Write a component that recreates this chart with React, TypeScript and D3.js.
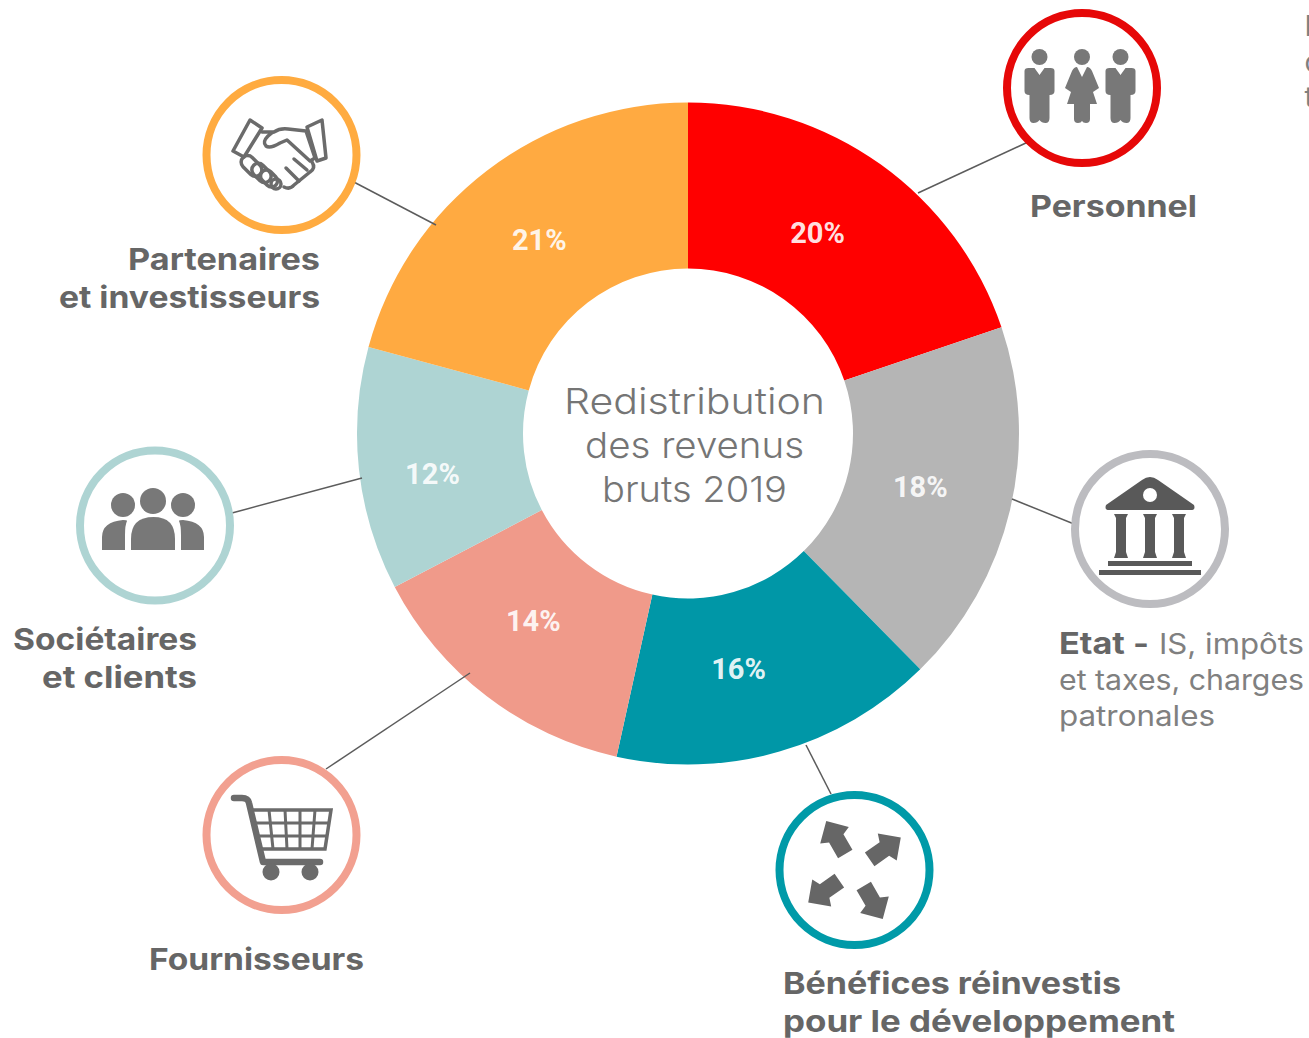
import React from 'react';
import * as d3 from 'd3';

const categories = ['Personnel', 'Etat', 'Bénéfices réinvestis', 'Fournisseurs', 'Sociétaires et clients', 'Partenaires et investisseurs'];
const values = [20, 18, 16, 14, 12, 21];
const valueLabels = ['20%', '18%', '16%', '14%', '12%', '21%'];
const sliceColors = ['#ff0000', '#b5b5b5', '#0097a7', '#f09a8a', '#aed4d3', '#ffaa41'];
const ringColors = ['#e60808', '#bcbcc0', '#009aa8', '#f2a090', '#aed4d3', '#ffab40'];
const centerLines = ['Redistribution', 'des revenus', 'bruts 2019'];
const clippedLetters = ['I', 'd', 't'];

const W = 1309, H = 1038;
const cx = 688, cy = 433.5;
const sans = "Inter, 'Open Sans', sans-serif";
const GREY = '#666666';
// nudges of the percentage labels away from the arc centroid, as placed in the reference
const labelNudge = [[-15, 1], [-9, -4], [-18, -3], [-4, -10], [-9, 13], [2, 3]];
const centerWidths = [261, 219, 185];

const LabelLine = ({ x, y, t, w, anchor = 'start', bold = true, fill = GREY, size = 30 }: any) => (
  <text x={x} y={y} textAnchor={anchor} fontFamily={sans} fontWeight={bold ? 700 : 400} fontSize={size} fill={fill}
    textLength={w} lengthAdjust="spacingAndGlyphs">{t}</text>
);

const Ring = ({ x, y, color }: any) => <circle cx={x} cy={y} r={75} fill="#fff" stroke={color} strokeWidth={8} />;

const People = () => {
  const male = (dx: number) => (
    <g transform={`translate(${dx},0)`} fill="#787878">
      <circle cx={0} cy={-31} r={8} />
      <path d="M-15,-17 Q-15,-20 -11,-20 L-5,-20 L0,-13 L5,-20 L11,-20 Q15,-20 15,-17 L15,3 Q15,7 10,7 L10,30 Q10,35 6,35 Q2,35 0,32 Q-2,35 -6,35 Q-10,35 -10,30 L-10,7 Q-15,7 -15,3 Z" />
    </g>
  );
  return (
    <g transform="translate(1082,88)">
      {male(-42.5)}
      <g fill="#787878">
        <circle cx={0} cy={-31} r={8} />
        <path d="M-5,-21 L0,-11 L5,-21 Q8,-21 10,-17 L17,0 L11,4 L15,16 L8,16 L8,31 Q8,35 4,35 Q1,35 0,33 Q-1,35 -4,35 Q-8,35 -8,31 L-8,16 L-15,16 L-11,4 L-17,0 L-10,-17 Q-8,-21 -5,-21 Z" />
      </g>
      {male(38.5)}
    </g>
  );
};

const Handshake = () => (
  <g transform="translate(190,70)" fill="none" stroke="#6b6b6b" strokeWidth={3.5} strokeLinejoin="round" strokeLinecap="round">
    <path d="M60,50 L43,81 L54,87 L72,58 Z" />
    <path d="M117,57 L132,50 L136,88 L127,91 Z" />
    <path d="M72,62 L84,62 Q90,58 98,59 L116,61 L125,88 L120,91 L97,70 L90,73 Q80,79 76,76 Q72,72 78,66 Q82,62 86,61" />
    <path d="M55,87 L60,90 M123,92 Q128,97 122,103 L104,116 Q100,120 92,116 M75,90 L60,90" strokeWidth={0} />
    <path d="M122,92 Q126,98 120,102 L104,115 Q100,120 94,117" />
    <rect x="55" y="84" width="13" height="24" rx="6.5" transform="rotate(-45 61.5 96)" />
    <rect x="65" y="92" width="13" height="22" rx="6.5" transform="rotate(-45 71.5 103)" />
    <rect x="73" y="99" width="12" height="19" rx="6" transform="rotate(-45 79 108.5)" />
    <circle cx="86" cy="114" r="5" />
    <path d="M96,98 L109,111 M104,89 L117,100" />
  </g>
);

const Bank = () => (
  <g transform="translate(1060,440)" fill="#595959">
    <path d="M90,37 Q94,37 98,40 L134,65 Q136,70 131,70 L49,70 Q44,70 46,65 L82,40 Q86,37 90,37 Z" />
    <circle cx="90" cy="55" r="7" fill="#fff" />
    {[61, 90, 119].map((x) => (
      <path key={x} d="M-7,0 L7,0 L5,4 L5,38 L7,44 L-7,44 L-5,38 L-5,4 Z" transform={`translate(${x},74)`} />
    ))}
    <rect x="48" y="121" width="84" height="5" />
    <rect x="39" y="130" width="102" height="5" />
  </g>
);

const Arrows = () => {
  const arrow = 'M-8.3,0 L8.3,0 L8.3,-18 L16.5,-21.5 L0,-38 L-16.5,-21.5 L-8.3,-18 Z';
  return (
    <g transform="translate(854.5,870)" fill="#666">
      {[-30, 55, 150, 235].map((a) => (
        <path key={a} d={arrow} transform={`rotate(${a}) translate(0,-18.5)`} />
      ))}
    </g>
  );
};

const Cart = () => (
  <g transform="translate(190,745)">
    <g fill="none" stroke="#6b6b6b">
      <path d="M44,53 L52,53 Q58,53 59,58 L73,117 L130,117" strokeWidth={6.5} strokeLinecap="round" strokeLinejoin="round" />
      <path d="M62,65 L141,65 L135,104 L70,104" strokeWidth={3.5} />
      <path d="M64,78 L138,78 M67,91 L136,91 M79,65 L83,104 M95,65 L97,104 M110,65 L110,104 M125,65 L122,104" strokeWidth={3} />
    </g>
    <circle cx="81" cy="127" r="8.5" fill="#6b6b6b" />
    <circle cx="120" cy="127" r="8.5" fill="#6b6b6b" />
  </g>
);

const Group = () => (
  <g transform="translate(65,435)" fill="#787878">
    <circle cx="58" cy="70" r="12" />
    <circle cx="88" cy="66" r="13" />
    <circle cx="118" cy="70" r="12" />
    <path d="M37,115 L37,102 Q37,87 58,85 Q62,85 62,86 Q60,90 60,100 L60,115 Z" />
    <path d="M66,115 L66,104 Q66,82 88.5,82 Q110,82 110,104 L110,115 Z" />
    <path d="M139,115 L139,102 Q139,87 118,85 Q114,85 114,86 Q116,90 116,100 L116,115 Z" />
  </g>
);

export default function App() {
  const pie = d3.pie<number>().sort(null).value((d) => d);
  const arcs = pie(values);
  const arc = d3.arc<d3.PieArcDatum<number>>().innerRadius(165).outerRadius(331);
  const labelArc = d3.arc<d3.PieArcDatum<number>>().innerRadius(248).outerRadius(248);

  return (
    <svg width={W} height={H} viewBox={`0 0 ${W} ${H}`} style={{ position: 'absolute', left: 0, top: 0, background: '#fff' }}>
      <g transform={`translate(${cx},${cy})`}>
        {arcs.map((a, i) => <path key={categories[i]} d={arc(a) as string} fill={sliceColors[i]} />)}
        {arcs.map((a, i) => {
          const [x, y] = labelArc.centroid(a);
          return (
            <text key={i} x={x + labelNudge[i][0]} y={y + labelNudge[i][1]} dy="0.36em" textAnchor="middle" fontFamily="Roboto, 'Liberation Sans', sans-serif"
              fontWeight={700} fontSize={29} fill="#fff" fillOpacity={0.9}>{valueLabels[i]}</text>
          );
        })}
      </g>
      <g stroke="#5c5c5c" strokeWidth={1.5}>
        <line x1={918} y1={193} x2={1028} y2={142} />
        <line x1={1012} y1={499} x2={1074} y2={524} />
        <line x1={806} y1={745} x2={831} y2={794} />
        <line x1={470} y1={673} x2={326} y2={769} />
        <line x1={362} y1={478} x2={232} y2={513} />
        <line x1={436} y1={225} x2={350} y2={180} />
      </g>
      {centerLines.map((t, i) => (
        <text key={t} x={694.5} y={414 + i * 44} textAnchor="middle" fontFamily={sans} fontWeight={300} fontSize={36} fill="#757575"
          textLength={centerWidths[i]} lengthAdjust="spacingAndGlyphs">{t}</text>
      ))}

      <Ring x={1082} y={88} color={ringColors[0]} />
      <Ring x={1150} y={529} color={ringColors[1]} />
      <Ring x={854.5} y={870} color={ringColors[2]} />
      <Ring x={281.5} y={835} color={ringColors[3]} />
      <Ring x={155} y={525.5} color={ringColors[4]} />
      <Ring x={281.5} y={155} color={ringColors[5]} />
      <People /><Bank /><Arrows /><Cart /><Group /><Handshake />

      <LabelLine x={1030} y={217} t="Personnel" w={167} />
      <LabelLine x={1059} y={654} t="Etat -" w={90} />
      <LabelLine x={1159} y={654} t="IS, impôts" w={145} bold={false} fill="#808080" size={28} />
      <LabelLine x={1059} y={690} t="et taxes, charges" w={245} bold={false} fill="#808080" size={28} />
      <LabelLine x={1059} y={726} t="patronales" w={156} bold={false} fill="#808080" size={28} />
      <LabelLine x={783} y={994} t="Bénéfices réinvestis" w={338} />
      <LabelLine x={783} y={1032} t="pour le développement" w={392} />
      <LabelLine x={149} y={970} t="Fournisseurs" w={215} />
      <LabelLine x={13} y={650} t="Sociétaires" w={184} />
      <LabelLine x={42} y={688} t="et clients" w={155} />
      <LabelLine x={128} y={270} t="Partenaires" w={192} />
      <LabelLine x={59} y={308} t="et investisseurs" w={261} />
      {clippedLetters.map((t, i) => (
        <text key={t} x={1304.5} y={36 + i * 35.5} fontFamily={sans} fontSize={28} fill="#808080">{t}</text>
      ))}
    </svg>
  );
}
